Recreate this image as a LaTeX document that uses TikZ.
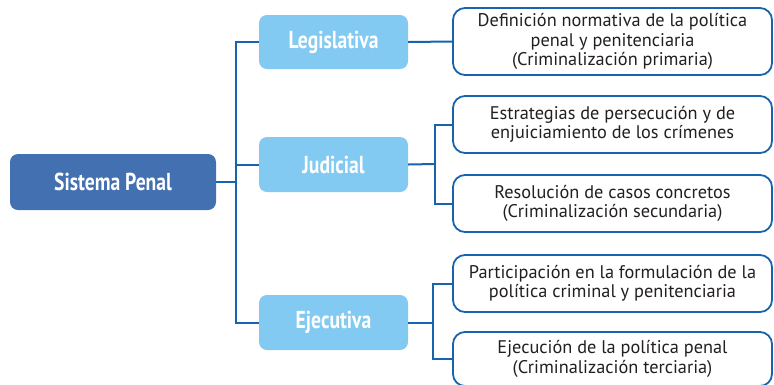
\documentclass[tikz,border=0pt]{standalone}
\usepackage{fontspec}
\setmainfont{PT Sans}
\usepackage{graphicx}
\definecolor{linec}{RGB}{22,100,176}
\definecolor{rootc}{RGB}{67,112,177}
\definecolor{lightb}{RGB}{130,202,242}
\definecolor{textc}{RGB}{35,31,32}
\newcommand{\headtxt}[1]{\scalebox{0.8}[1]{#1}}
\begin{document}
\begin{tikzpicture}[x=1pt,y=-1pt,
  rootbox/.style={rounded corners=8pt, fill=rootc, text=white, minimum width=206pt, minimum height=56pt, inner sep=0pt, font=\bfseries\fontsize{24.5}{26}\selectfont},
  catbox/.style={rounded corners=8pt, fill=lightb, text=white, minimum width=149pt, inner sep=0pt, font=\bfseries\fontsize{24.5}{26}\selectfont},
  descbox/.style={draw=linec, line width=1.8pt, rounded corners=12pt, fill=white, minimum width=319pt, inner sep=0pt, align=center, text=textc, font=\fontsize{18.3}{19.5}\selectfont},
  conn/.style={draw=linec, line width=2pt}]
\useasboundingbox (0,0) rectangle (774,384);
\clip (0,0) rectangle (774,384);
\node[rootbox] (sp) at (113,182) {\headtxt{Sistema Penal}};
\node[catbox, minimum height=54pt] (leg) at (333.5,42) {\headtxt{Legislativa}};
\node[catbox, minimum height=55pt] (jud) at (333.5,164.5) {\headtxt{Judicial}};
\node[catbox, minimum height=55pt] (eje) at (333.5,322.5) {\headtxt{Ejecutiva}};
\node[descbox, minimum height=67pt] (b1) at (612.5,41.5) {Definición normativa de la política\\penal y penitenciaria\\(Criminalización primaria)};
\node[descbox, minimum height=57pt] (b2) at (612.5,124.5) {Estrategias de persecución y de\\enjuiciamiento de los crímenes};
\node[descbox, minimum height=57pt] (b3) at (612.5,203.5) {Resolución de casos concretos\\(Criminalización secundaria)};
\node[descbox, minimum height=57pt] (b4) at (612.5,283.5) {Participación en la formulación de la\\política criminal y penitenciaria};
\node[descbox, minimum height=54pt] (b5) at (612.5,359) {Ejecución de la política penal\\(Criminalización terciaria)};
\coordinate (mx) at (236,182);
\coordinate (jx) at (435,164);
\coordinate (ex) at (433,322.5);
\draw[conn] (sp.east) -- (mx);
\draw[conn] (leg.west) -| (mx);
\draw[conn] (eje.west) -| (mx);
\draw[conn] (jud.west) -- (jud.west -| mx);
\draw[conn] (leg.east) -- (b1.west);
\draw[conn] (jud.east) -- (jx);
\draw[conn] (b2.west) -| (jx);
\draw[conn] (b3.west) -| (jx);
\draw[conn] (eje.east) -- (ex);
\draw[conn] (b4.west) -| (ex);
\draw[conn] (b5.west) -| (ex);
\end{tikzpicture}
\end{document}
